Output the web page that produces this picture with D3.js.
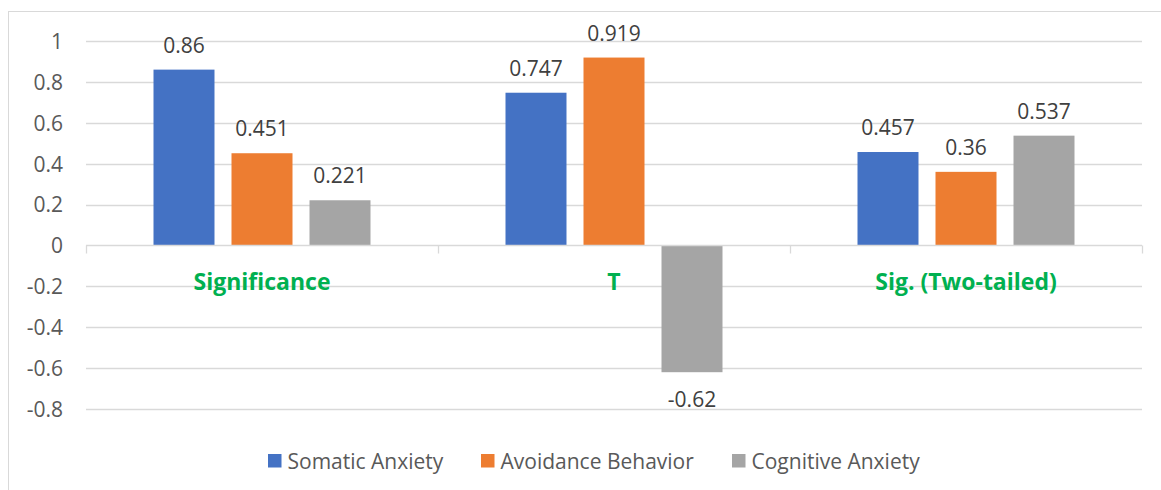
<!DOCTYPE html>
<html>
<head>
<meta charset="utf-8">
<script src="https://cdn.jsdelivr.net/npm/d3@7"></script>
<style>
  html, body { margin: 0; padding: 0; background: #fff; }
  svg { display: block; font-family: "Open Sans", "Liberation Sans", sans-serif; }
</style>
</head>
<body>
<svg id="chart" width="1161" height="490"></svg>
<script>
// Groups along the x axis and the three measured series
const categories = ["Significance", "T", "Sig. (Two-tailed)"];
const seriesNames = ["Somatic Anxiety", "Avoidance Behavior", "Cognitive Anxiety"];
const somaticAnxiety = [0.86, 0.747, 0.457];
const avoidanceBehavior = [0.451, 0.919, 0.36];
const cognitiveAnxiety = [0.221, -0.62, 0.537];
const yTicks = [-0.8, -0.6, -0.4, -0.2, 0, 0.2, 0.4, 0.6, 0.8, 1];
const seriesColors = ["#4472C4", "#ED7D31", "#A5A5A5"];

const seriesValues = [somaticAnxiety, avoidanceBehavior, cognitiveAnxiety];
const data = categories.map((c, i) => ({
  category: c,
  values: seriesNames.map((s, j) => ({ series: s, value: seriesValues[j][i], idx: j }))
}));

const svg = d3.select("#chart");
const plot = { left: 86, right: 1142, top: 41, bottom: 409 };

// outer chart frame
svg.append("rect")
  .attr("x", 8.5).attr("y", 11.5)
  .attr("width", 1170).attr("height", 500)
  .attr("fill", "none").attr("stroke", "#d9d9d9").attr("stroke-width", 1);

const y = d3.scaleLinear().domain([-0.8, 1]).range([plot.bottom, plot.top]);
const x0 = d3.scaleBand().domain(categories).range([plot.left, plot.right]).padding(0);
const groupInset = 67.5;
const x1 = d3.scaleBand().domain(seriesNames)
  .range([groupInset, x0.bandwidth() - groupInset])
  .paddingInner(0.218).paddingOuter(0);

// horizontal gridlines
svg.append("g").selectAll("line")
  .data(yTicks.filter(t => t !== 0))
  .join("line")
  .attr("x1", plot.left).attr("x2", plot.right)
  .attr("y1", d => Math.round(y(d)) + 0.5).attr("y2", d => Math.round(y(d)) + 0.5)
  .attr("stroke", "#d9d9d9").attr("stroke-width", 1.3);

// y-axis tick labels (plain hyphen for negatives)
const yAxis = d3.axisLeft(y).tickValues(yTicks).tickSize(0).tickPadding(0)
  .tickFormat(d => String(+d.toFixed(1)));
const yg = svg.append("g").attr("transform", `translate(${63},0)`).call(yAxis);
yg.select(".domain").remove();
yg.selectAll("text")
  .attr("font-family", "Open Sans, sans-serif")
  .attr("font-size", 21).attr("fill", "#595959").attr("dy", "0.35em");

// bars
const groups = svg.append("g").selectAll("g")
  .data(data).join("g")
  .attr("transform", d => `translate(${x0(d.category)},0)`);

groups.selectAll("rect")
  .data(d => d.values).join("rect")
  .attr("x", d => x1(d.series))
  .attr("width", x1.bandwidth())
  .attr("y", d => y(Math.max(0, d.value)))
  .attr("height", d => Math.abs(y(d.value) - y(0)))
  .attr("fill", d => seriesColors[d.idx]);

// value labels
groups.selectAll("text.val")
  .data(d => d.values).join("text")
  .attr("class", "val")
  .attr("x", d => x1(d.series) + x1.bandwidth() / 2)
  .attr("y", d => d.value >= 0 ? y(d.value) - 17 : y(d.value) + 35)
  .attr("text-anchor", "middle")
  .attr("font-size", 21).attr("fill", "#404040")
  .text(d => d.value);

// zero axis line with category boundary ticks
const zeroY = Math.round(y(0)) + 0.5;
svg.append("line")
  .attr("x1", plot.left).attr("x2", plot.right)
  .attr("y1", zeroY).attr("y2", zeroY)
  .attr("stroke", "#d9d9d9").attr("stroke-width", 1.3);
const boundaries = categories.map(c => x0(c)).concat([x0.range()[1]]);
svg.append("g").selectAll("line")
  .data(boundaries).join("line")
  .attr("x1", d => Math.round(d) + 0.5).attr("x2", d => Math.round(d) + 0.5)
  .attr("y1", zeroY).attr("y2", zeroY + 8)
  .attr("stroke", "#d9d9d9").attr("stroke-width", 1.3);

// category labels
svg.append("g").selectAll("text")
  .data(categories).join("text")
  .attr("x", d => x0(d) + x0.bandwidth() / 2)
  .attr("y", 290)
  .attr("text-anchor", "middle")
  .attr("font-size", 23).attr("font-weight", "bold").attr("fill", "#00B050")
  .text(d => d);

// legend
const legendItems = [
  { name: seriesNames[0], x: 268 },
  { name: seriesNames[1], x: 481 },
  { name: seriesNames[2], x: 732 }
];
const legend = svg.append("g").selectAll("g")
  .data(legendItems).join("g")
  .attr("transform", d => `translate(${d.x},${454})`);
legend.append("rect")
  .attr("width", 13.5).attr("height", 13.5)
  .attr("fill", (d, i) => seriesColors[i]);
legend.append("text")
  .attr("x", 19.5).attr("y", 7.5).attr("dy", "0.35em")
  .attr("font-size", 21).attr("fill", "#595959")
  .text(d => d.name);
</script>
</body>
</html>
